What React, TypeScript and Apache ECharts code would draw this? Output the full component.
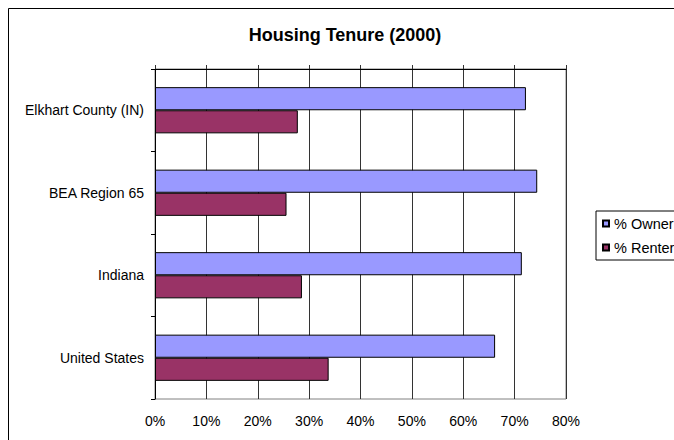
import React, { useEffect, useRef } from "react";
import * as echarts from "echarts";

const titleText = "Housing Tenure (2000)";
const categories = ["Elkhart County (IN)", "BEA Region 65", "Indiana", "United States"];
const seriesNames = ["% Owner", "% Renter"];
const ownerValues = [72.2, 74.4, 71.4, 66.2];
const renterValues = [27.8, 25.6, 28.6, 33.8];
const axisMin = 0;
const axisMax = 80;
const axisStep = 10;

const FONT = "'Liberation Sans', Arial, sans-serif";

export default function App() {
  const ref = useRef<HTMLDivElement>(null);
  useEffect(() => {
    if (!ref.current) return;
    const chart = echarts.init(ref.current, null, { renderer: "svg" });
    const W = 720;
    const H = 460;
    chart.setOption({
      animation: false,
      backgroundColor: "#fff",
      textStyle: { fontFamily: FONT },
      title: {
        text: titleText,
        left: 345,
        textAlign: "center",
        top: 26,
        padding: 0,
        textStyle: { fontFamily: FONT, fontSize: 18, fontWeight: "bold", color: "#000", lineHeight: 18 },
      },
      graphic: [
        {
          type: "rect",
          shape: { x: 8.5, y: 8.5, width: W, height: H },
          style: { fill: "none", stroke: "#000", lineWidth: 1 },
          silent: true,
          z: 100,
        },
      ],
      legend: {
        orient: "vertical",
        left: 596,
        top: 211,
        padding: [5, 12, 5, 6],
        itemWidth: 6,
        itemHeight: 6,
        itemGap: 9,
        itemTextGap: 6,
        icon: "rect",
        borderColor: "#000",
        borderWidth: 1,
        backgroundColor: "#fff",
        textStyle: { fontFamily: FONT, fontSize: 14.5, color: "#000", lineHeight: 14 },
        data: seriesNames,
      },
      grid: {
        left: 155,
        top: 69,
        right: W - 566,
        bottom: H - 399,
        show: true,
        borderColor: "#808080",
        borderWidth: 1,
        backgroundColor: "#fff",
      },
      xAxis: [
        {
          type: "value",
          position: "top",
          min: axisMin,
          max: axisMax,
          interval: axisStep,
          axisLine: { show: true, lineStyle: { color: "#000", width: 1 } },
          axisTick: { show: true, length: 4, inside: false, lineStyle: { color: "#333" } },
          axisLabel: { show: false },
          splitLine: { show: true, lineStyle: { color: "#333", width: 1 } },
        },
        {
          type: "value",
          position: "bottom",
          min: axisMin,
          max: axisMax,
          interval: axisStep,
          axisLine: { show: false },
          axisTick: { show: false },
          splitLine: { show: false },
          axisLabel: {
            show: true,
            margin: 15,
            fontFamily: FONT,
            fontSize: 14,
            color: "#000",
            formatter: (v: number) => v + "%",
          },
        },
      ],
      yAxis: {
        type: "category",
        data: categories,
        inverse: true,
        axisLine: { show: true, lineStyle: { color: "#000", width: 1 } },
        axisTick: { show: true, length: 4, lineStyle: { color: "#000" } },
        axisLabel: { margin: 11, fontFamily: FONT, fontSize: 14, color: "#000" },
        splitLine: { show: false },
      },
      series: [
        {
          name: seriesNames[0],
          type: "bar",
          xAxisIndex: 0,
          data: ownerValues,
          barGap: "0%",
          barCategoryGap: "44%",
          itemStyle: { color: "#9999FF", borderColor: "#000", borderWidth: 1 },
          emphasis: { disabled: true },
        },
        {
          name: seriesNames[1],
          type: "bar",
          xAxisIndex: 0,
          data: renterValues,
          barGap: "0%",
          barCategoryGap: "44%",
          itemStyle: { color: "#993366", borderColor: "#000", borderWidth: 1 },
          emphasis: { disabled: true },
        },
      ],
    });
    return () => chart.dispose();
  }, []);
  return (
    <div
      ref={ref}
      style={{ position: "fixed", left: 0, top: 0, width: 720, height: 460 }}
    />
  );
}
